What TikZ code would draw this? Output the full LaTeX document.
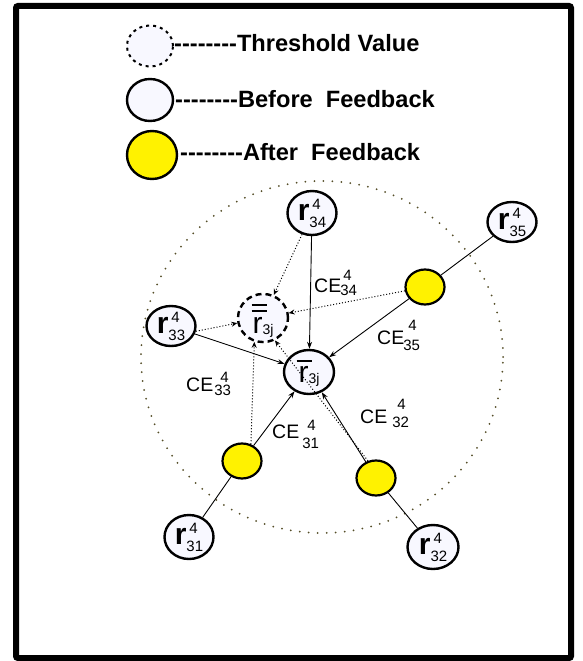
\documentclass[tikz,border=0pt]{standalone}
\usepackage{fontspec}
\setmainfont{Liberation Sans}[Ligatures=TeXOff]
\usetikzlibrary{arrows.meta,shapes.geometric}
\definecolor{nodefill}{RGB}{248,248,255}
\definecolor{dotcol}{RGB}{85,78,40}
\newcommand{\smf}{\fontsize{15}{15}\selectfont}
\newcommand{\rl}[2]{{\fontsize{30}{30}\selectfont\bfseries r}\rlap{\kern3pt\raisebox{11pt}{\smf #1}}\raisebox{-7pt}{\smf #2}}
\newcommand{\rbarA}{{\fontsize{30}{30}\selectfont\makebox[0pt][l]{\kern-2pt\raisebox{20pt}{\rule{15pt}{2pt}}}r}\raisebox{-1pt}{\fontsize{14}{14}\selectfont 3j}}
\newcommand{\rbarB}{{\fontsize{30}{30}\selectfont\makebox[0pt][l]{\kern-1pt\raisebox{21pt}{\rule{15pt}{2pt}}}\makebox[0pt][l]{\kern-1pt\raisebox{27pt}{\rule{15pt}{2pt}}}r}\raisebox{-1pt}{\fontsize{14}{14}\selectfont 3j}}
\newcommand{\CEl}[5]{CE\kern#2pt\rlap{\kern#3pt\raisebox{#4pt}{\smf 4}}\raisebox{-#5pt}{\smf #1}}
\begin{document}
\begin{tikzpicture}[x=1pt,y=-1pt,
  rnode/.style={ellipse,draw,line width=2.4pt,fill=nodefill,inner sep=0pt,
    minimum width=49pt,minimum height=44pt,text height=21pt,text depth=7pt},
  ynode/.style={ellipse,draw,line width=2.2pt,fill=yellow,inner sep=0pt,
    minimum width=39pt,minimum height=35pt},
  conn/.style={line width=0.9pt,-{Stealth[length=7pt,width=5pt]}},
  plainln/.style={line width=0.9pt},
  dconn/.style={line width=1pt,dotted,-{Stealth[length=6pt,width=5pt]}},
  celab/.style={anchor=base west,inner sep=0pt,font=\fontsize{19.5}{20}\selectfont},
  lgtext/.style={anchor=base west,inner sep=0pt,font=\fontsize{23.6}{24}\selectfont\bfseries}]
\fill[white] (0,0) rectangle (582,661);
\useasboundingbox (0,0) rectangle (582,661);
\draw[line width=6pt,rounded corners=2pt] (16,6) rectangle (571,658);
% legend
\node[ellipse,draw,line width=2pt,dash pattern=on 3pt off 4pt,fill=nodefill,
  minimum width=46pt,minimum height=41pt,inner sep=0pt] (lth) at (150,46) {};
\node[lgtext] (lthT) at (174,52) {--------Threshold Value};
\node[ellipse,draw,line width=2.4pt,fill=nodefill,
  minimum width=46pt,minimum height=42pt,inner sep=0pt] (lbf) at (150,100) {};
\node[lgtext] (lbfT) at (175,107) {--------Before\ \ Feedback};
\node[ellipse,draw,line width=2.4pt,fill=yellow,
  minimum width=50pt,minimum height=48pt,inner sep=0pt] (laf) at (152,155) {};
\node[lgtext] (lafT) at (180,160) {--------After\ \ Feedback};
% big dotted circle
\draw[dotcol,line width=2pt,dash pattern=on 0pt off 9pt,line cap=round]
  (322,357) ellipse [x radius=181pt,y radius=176pt];
% nodes
\node[rnode] (r34) at (312,213) {\rl{4}{34}};
\node[rnode,minimum height=40pt] (r35) at (512,222) {\rl{4}{35}};
\node[rnode,minimum height=40pt] (r33) at (171,326) {\rl{4}{33}};
\node[rnode] (r31) at (189,537) {\rl{4}{31}};
\node[rnode,minimum width=51pt] (r32) at (433,547) {\rl{4}{32}};
\node[rnode,minimum width=50pt,text height=24pt,text depth=4pt] (c) at (309,372) {\rbarA};
\node[rnode,dash pattern=on 6pt off 4pt,minimum width=50pt,minimum height=42pt,
  text height=32pt,text depth=2pt] (th) at (263,318) {\rbarB};
\node[ynode] (yTR) at (425,287) {};
\node[ynode] (yL) at (242,461) {};
\node[ynode] (yR) at (376,478) {};
% connectors
\draw[plainln] (r35) -- (yTR);
\draw[plainln] (r31) -- (yL);
\draw[plainln] (r32) -- (yR);
\draw[conn] (r34) -- (c);
\draw[conn] (yTR) -- (c);
\draw[conn] (r33) -- (c);
\draw[conn] (yL) -- (c);
\draw[conn] (yR) -- (c);
\draw[dconn] (r34) -- (th);
\draw[dconn] (yTR) -- (th);
\draw[dconn] (r33.-12) -- (th);
\draw[dconn] (yL.62) -- (th.-110);
\draw[dconn] (yR.115) -- (th.-62);
% edge labels
\node[celab] (ce34) at (314,292) {\CEl{34}{-1}{3}{12}{3}};
\node[celab] (ce35) at (377,344) {\CEl{35}{-1}{5}{14}{6}};
\node[celab] (ce33) at (186,391) {\CEl{33}{1}{6}{9}{4}};
\node[celab] (ce31) at (272,438) {\CEl{31}{3}{5}{8}{10}};
\node[celab] (ce32) at (360,423) {\CEl{32}{5}{5}{14}{4}};
\end{tikzpicture}
\end{document}
